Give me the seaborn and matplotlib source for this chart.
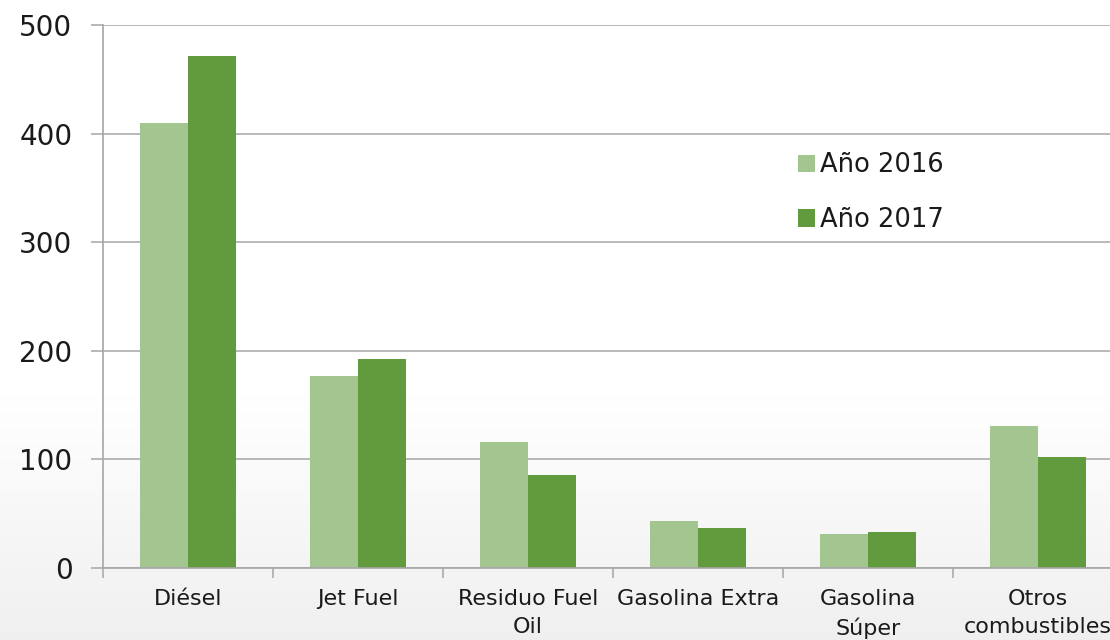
import matplotlib
matplotlib.use("Agg")
import matplotlib.pyplot as plt
import seaborn as sns
import pandas as pd
import numpy as np
from matplotlib.ticker import FixedLocator
from matplotlib.patches import Patch

categories = ["Diésel", "Jet Fuel", "Residuo Fuel\nOil", "Gasolina Extra", "Gasolina\nSúper", "Otros\ncombustibles"]
series_names = ["Año 2016", "Año 2017"]
values_2016 = [410, 177, 116, 43, 31, 131]
values_2017 = [471, 192, 86, 37, 33, 102]
y_ticks = [0, 100, 200, 300, 400, 500]

colors = ["#A3C58F", "#629A3E"]

df = pd.DataFrame({
    "categoria": categories * 2,
    "serie": [series_names[0]] * len(categories) + [series_names[1]] * len(categories),
    "valor": values_2016 + values_2017,
})

sns.set_theme(style="white")
plt.rcParams["font.family"] = ["DejaVu Sans"]

fig = plt.figure(figsize=(11.1, 6.4), dpi=100)

# subtle background gradient (light grey towards the bottom)
bg = fig.add_axes([0, 0, 1, 1], zorder=-10)
grad = np.linspace(0, 1, 256)
grad = np.clip((grad - 0.62) / 0.38, 0, 1)
rgb = np.ones((256, 1, 3))
shade = 1.0 - 0.06 * grad
rgb[:, 0, :] = shade[:, None]
bg.imshow(rgb, aspect="auto", extent=[0, 1, 0, 1], origin="upper")
bg.axis("off")

ax = fig.add_axes([103 / 1110, 72 / 640, 1020 / 1110, 543 / 640])
ax.patch.set_alpha(0)

sns.barplot(data=df, x="categoria", y="valor", hue="serie", palette=colors,
            width=0.565, saturation=1, ax=ax, legend=False, linewidth=0)

ax.set_xlim(-0.5, 5.5)
ax.set_ylim(0, 500)
ax.set_yticks(y_ticks)
ax.yaxis.grid(True, color="#A6A6A6", linewidth=1.1)
ax.set_axisbelow(True)
ax.set_xlabel("")
ax.set_ylabel("")

for s in ["top", "right"]:
    ax.spines[s].set_visible(False)
for s in ["left", "bottom"]:
    ax.spines[s].set_color("#A6A6A6")
    ax.spines[s].set_linewidth(1.2)

ax.tick_params(axis="y", which="major", direction="out", length=9, width=1.1,
               color="#A6A6A6", labelsize=20, labelcolor="#1a1a1a", pad=13, left=True)
ax.tick_params(axis="x", which="major", length=0, labelsize=16, labelcolor="#1a1a1a", pad=15)
ax.xaxis.set_minor_locator(FixedLocator(np.arange(-0.5, 6.0, 1.0)))
ax.tick_params(axis="x", which="minor", direction="out", length=7, width=1.1,
               color="#A6A6A6", bottom=True)
for lbl in ax.get_xticklabels():
    lbl.set_linespacing(1.5)
    lbl.set_verticalalignment("top")

handles = [Patch(facecolor=c, edgecolor="none") for c in colors]
ax.legend(handles, series_names, loc="upper left", bbox_to_anchor=(685 / 1020, (568 - 142) / 543),
          frameon=False, fontsize=18.5, handlelength=0.65, handleheight=0.65, handletextpad=0.2,
          labelspacing=1.12, borderaxespad=0, labelcolor="#1a1a1a")

fig.savefig("out.png", dpi=100, facecolor="white")
